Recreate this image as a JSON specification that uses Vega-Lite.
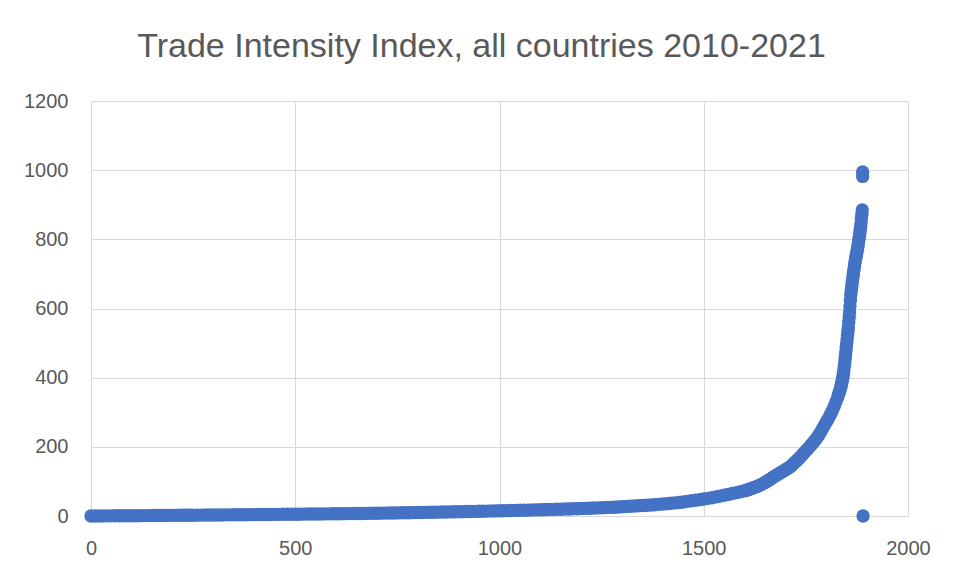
{
  "$schema": "https://vega.github.io/schema/vega-lite/v6.json",
  "autosize": "none",
  "width": 817,
  "height": 415,
  "padding": {"left": 91, "top": 101, "right": 55, "bottom": 59},
  "background": "white",
  "title": {
    "text": "Trade Intensity Index, all countries 2010-2021",
    "font": "Liberation Sans",
    "fontSize": 34,
    "fontWeight": "normal",
    "color": "#595959",
    "anchor": "middle",
    "frame": "group",
    "dx": -18,
    "offset": 27
  },
  "data": {
    "values": [
      {"n":0,"tii":0.1},{"n":10,"tii":0.15},{"n":20,"tii":0.2},{"n":30,"tii":0.3},{"n":40,"tii":0.35},{"n":50,"tii":0.45},{"n":60,"tii":0.5},{"n":70,"tii":0.6},{"n":80,"tii":0.65},{"n":90,"tii":0.75},
      {"n":100,"tii":0.8},{"n":110,"tii":0.9},{"n":120,"tii":1.0},{"n":130,"tii":1.1},{"n":140,"tii":1.2},{"n":150,"tii":1.3},{"n":160,"tii":1.4},{"n":170,"tii":1.5},{"n":180,"tii":1.6},{"n":190,"tii":1.7},
      {"n":200,"tii":1.8},{"n":210,"tii":1.9},{"n":220,"tii":2.0},{"n":230,"tii":2.1},{"n":240,"tii":2.2},{"n":250,"tii":2.35},{"n":260,"tii":2.45},{"n":270,"tii":2.55},{"n":280,"tii":2.7},{"n":290,"tii":2.8},
      {"n":300,"tii":2.9},{"n":310,"tii":3.0},{"n":320,"tii":3.1},{"n":330,"tii":3.25},{"n":340,"tii":3.35},{"n":350,"tii":3.45},{"n":360,"tii":3.55},{"n":370,"tii":3.7},{"n":380,"tii":3.8},{"n":390,"tii":3.9},
      {"n":400,"tii":4.0},{"n":410,"tii":4.1},{"n":420,"tii":4.25},{"n":430,"tii":4.35},{"n":440,"tii":4.5},{"n":450,"tii":4.6},{"n":460,"tii":4.7},{"n":470,"tii":4.85},{"n":480,"tii":4.95},{"n":490,"tii":5.1},
      {"n":500,"tii":5.2},{"n":510,"tii":5.3},{"n":520,"tii":5.45},{"n":530,"tii":5.6},{"n":540,"tii":5.7},{"n":550,"tii":5.85},{"n":560,"tii":6.0},{"n":570,"tii":6.1},{"n":580,"tii":6.25},{"n":590,"tii":6.4},
      {"n":600,"tii":6.5},{"n":610,"tii":6.65},{"n":620,"tii":6.8},{"n":630,"tii":6.95},{"n":640,"tii":7.1},{"n":650,"tii":7.25},{"n":660,"tii":7.4},{"n":670,"tii":7.55},{"n":680,"tii":7.7},{"n":690,"tii":7.85},
      {"n":700,"tii":8.0},{"n":710,"tii":8.2},{"n":720,"tii":8.4},{"n":730,"tii":8.6},{"n":740,"tii":8.8},{"n":750,"tii":9.0},{"n":760,"tii":9.2},{"n":770,"tii":9.4},{"n":780,"tii":9.6},{"n":790,"tii":9.8},
      {"n":800,"tii":10.0},{"n":810,"tii":10.2},{"n":820,"tii":10.45},{"n":830,"tii":10.7},{"n":840,"tii":10.9},{"n":850,"tii":11.15},{"n":860,"tii":11.4},{"n":870,"tii":11.6},{"n":880,"tii":11.85},{"n":890,"tii":12.05},
      {"n":900,"tii":12.3},{"n":910,"tii":12.55},{"n":920,"tii":12.8},{"n":930,"tii":13.1},{"n":940,"tii":13.35},{"n":950,"tii":13.6},{"n":960,"tii":13.9},{"n":970,"tii":14.15},{"n":980,"tii":14.45},{"n":990,"tii":14.7},
      {"n":1000,"tii":15.0},{"n":1010,"tii":15.3},{"n":1020,"tii":15.6},{"n":1030,"tii":15.9},{"n":1040,"tii":16.2},{"n":1050,"tii":16.5},{"n":1060,"tii":16.8},{"n":1070,"tii":17.1},{"n":1080,"tii":17.4},{"n":1090,"tii":17.7},
      {"n":1100,"tii":18.0},{"n":1110,"tii":18.3},{"n":1120,"tii":18.65},{"n":1130,"tii":19.0},{"n":1140,"tii":19.35},{"n":1150,"tii":19.7},{"n":1160,"tii":20.05},{"n":1170,"tii":20.4},{"n":1180,"tii":20.8},{"n":1190,"tii":21.2},
      {"n":1200,"tii":21.6},{"n":1210,"tii":22.0},{"n":1220,"tii":22.4},{"n":1230,"tii":22.9},{"n":1240,"tii":23.4},{"n":1250,"tii":23.9},{"n":1260,"tii":24.4},{"n":1270,"tii":24.9},{"n":1280,"tii":25.5},{"n":1290,"tii":26.1},
      {"n":1300,"tii":26.7},{"n":1310,"tii":27.3},{"n":1320,"tii":28.0},{"n":1330,"tii":28.7},{"n":1340,"tii":29.4},{"n":1350,"tii":30.2},{"n":1360,"tii":31.0},{"n":1370,"tii":31.8},{"n":1380,"tii":32.7},{"n":1390,"tii":33.6},
      {"n":1400,"tii":34.6},{"n":1410,"tii":35.6},{"n":1420,"tii":36.7},{"n":1430,"tii":37.9},{"n":1440,"tii":39.2},{"n":1450,"tii":40.7},{"n":1460,"tii":42.3},{"n":1470,"tii":44.0},{"n":1480,"tii":45.6},{"n":1490,"tii":47.3},
      {"n":1500,"tii":49.0},{"n":1510,"tii":51.0},{"n":1520,"tii":53.0},{"n":1530,"tii":55.2},{"n":1540,"tii":57.5},{"n":1550,"tii":60.0},{"n":1560,"tii":62.5},{"n":1570,"tii":65.0},{"n":1580,"tii":67.5},{"n":1590,"tii":70.2},
      {"n":1600,"tii":73.0},{"n":1604,"tii":74.5},{"n":1608,"tii":76.0},{"n":1612,"tii":77.6},{"n":1616,"tii":79.2},{"n":1620,"tii":80.8},{"n":1624,"tii":82.5},{"n":1628,"tii":84.3},{"n":1632,"tii":86.3},{"n":1636,"tii":88.5},
      {"n":1640,"tii":90.7},{"n":1644,"tii":93.0},{"n":1648,"tii":95.5},{"n":1652,"tii":98.2},{"n":1656,"tii":101.0},{"n":1660,"tii":104.0},{"n":1664,"tii":107.2},{"n":1668,"tii":110.5},{"n":1672,"tii":113.8},{"n":1676,"tii":116.8},
      {"n":1680,"tii":119.6},{"n":1684,"tii":122.4},{"n":1688,"tii":125.2},{"n":1692,"tii":128.0},{"n":1696,"tii":130.8},{"n":1700,"tii":133.6},{"n":1704,"tii":136.5},{"n":1708,"tii":139.5},{"n":1712,"tii":142.5},{"n":1716,"tii":147.0},
      {"n":1720,"tii":151.5},{"n":1724,"tii":156.0},{"n":1728,"tii":160.5},{"n":1732,"tii":165.0},{"n":1736,"tii":170.0},{"n":1740,"tii":175.0},{"n":1744,"tii":180.5},{"n":1748,"tii":186.0},{"n":1752,"tii":191.0},{"n":1756,"tii":196.0},
      {"n":1760,"tii":201.5},{"n":1764,"tii":207.0},{"n":1768,"tii":212.5},{"n":1772,"tii":218.0},{"n":1776,"tii":224.0},{"n":1780,"tii":231.0},{"n":1784,"tii":238.5},{"n":1788,"tii":246.5},{"n":1792,"tii":255.0},{"n":1796,"tii":264.0},
      {"n":1800,"tii":272.0},{"n":1804,"tii":280.0},{"n":1808,"tii":289.0},{"n":1812,"tii":298.0},{"n":1816,"tii":308.0},{"n":1820,"tii":319.0},{"n":1824,"tii":331.0},{"n":1828,"tii":344.0},{"n":1830,"tii":351.0},{"n":1832,"tii":358.0},
      {"n":1834,"tii":366},{"n":1836,"tii":375},{"n":1837,"tii":380},{"n":1838,"tii":386},{"n":1839,"tii":392},{"n":1840,"tii":398},{"n":1841,"tii":405},{"n":1842,"tii":413},{"n":1843,"tii":422},{"n":1844,"tii":432},
      {"n":1845,"tii":442},{"n":1846,"tii":453},{"n":1847,"tii":464},{"n":1848,"tii":476},{"n":1849,"tii":488},
      {"n":1850,"tii":500},{"n":1851,"tii":512},{"n":1852,"tii":523},{"n":1853,"tii":534},{"n":1854,"tii":545},{"n":1855,"tii":560},{"n":1856,"tii":575},{"n":1857,"tii":590},{"n":1858,"tii":607},{"n":1859,"tii":624},
      {"n":1860,"tii":640},{"n":1861,"tii":650},{"n":1862,"tii":660},{"n":1863,"tii":670},{"n":1864,"tii":680},{"n":1865,"tii":689},{"n":1866,"tii":698},{"n":1867,"tii":707},{"n":1868,"tii":715},{"n":1869,"tii":723},
      {"n":1870,"tii":731},{"n":1871,"tii":738},{"n":1872,"tii":745},{"n":1873,"tii":751},{"n":1874,"tii":757},{"n":1875,"tii":764},{"n":1876,"tii":770},{"n":1877,"tii":777},{"n":1878,"tii":785},{"n":1879,"tii":792},
      {"n":1880,"tii":800},{"n":1881,"tii":808},{"n":1882,"tii":817},{"n":1883,"tii":826},{"n":1884,"tii":835},{"n":1885,"tii":847},{"n":1886,"tii":860},{"n":1887,"tii":872},{"n":1888,"tii":885},
      {"n":1889,"tii":982},{"n":1889,"tii":995},{"n":1890,"tii":0}
    ]
  },
  "mark": {"type": "point", "filled": true, "shape": "circle", "size": 180, "color": "#4472C4", "opacity": 1},
  "encoding": {
    "x": {
      "field": "n",
      "type": "quantitative",
      "scale": {"domain": [0, 2000], "nice": false, "zero": false},
      "axis": {
        "title": null,
        "values": [0, 500, 1000, 1500, 2000],
        "format": "d",
        "grid": true,
        "gridColor": "#d9d9d9",
        "gridWidth": 1,
        "domain": true,
        "domainColor": "#d9d9d9",
        "domainWidth": 1,
        "ticks": false,
        "labelFont": "Liberation Sans",
        "labelFontSize": 20,
        "labelColor": "#595959",
        "labelPadding": 22,
        "labelFlush": false,
        "labelOverlap": false
      }
    },
    "y": {
      "field": "tii",
      "type": "quantitative",
      "scale": {"domain": [0, 1200], "nice": false},
      "axis": {
        "title": null,
        "values": [0, 200, 400, 600, 800, 1000, 1200],
        "format": "d",
        "grid": true,
        "gridColor": "#d9d9d9",
        "gridWidth": 1,
        "domain": false,
        "ticks": false,
        "labelFont": "Liberation Sans",
        "labelFontSize": 20,
        "labelColor": "#595959",
        "labelPadding": 23,
        "labelFlush": false,
        "labelOverlap": false
      }
    }
  },
  "config": {
    "view": {"stroke": null}
  }
}
